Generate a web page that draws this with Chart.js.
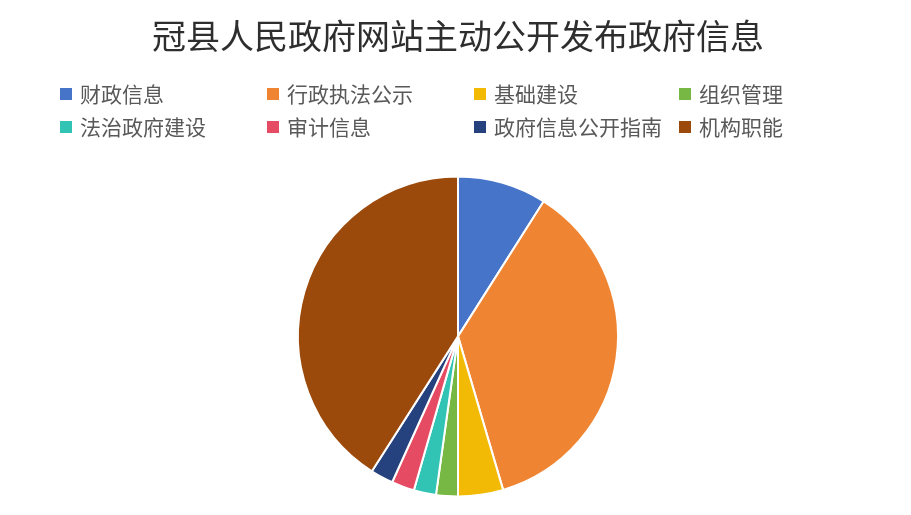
<!DOCTYPE html>
<html>
<head>
<meta charset="utf-8">
<script src="https://cdn.jsdelivr.net/npm/chart.js@4/dist/chart.umd.min.js"></script>
<style>
html,body{margin:0;padding:0;background:#fff;}
#wrap{width:911px;height:515px;position:relative;}
</style>
</head>
<body>
<div id="wrap"><canvas id="c" width="911" height="515"></canvas></div>
<script>
const chartTitle = '冠县人民政府网站主动公开发布政府信息';
const categories = ['财政信息','行政执法公示','基础建设','组织管理','法治政府建设','审计信息','政府信息公开指南','机构职能'];
const values = [9.0, 36.45, 4.55, 2.2, 2.25, 2.3, 2.3, 40.95];
const colors = ['#4674C9','#EF8532','#F2BA05','#76B843','#31C3B4','#E54C63','#25427F','#9C4A0C'];

const gridLegend = {
  id: 'gridLegend',
  afterDraw(chart) {
    const ctx = chart.ctx;
    const colX = [60, 267, 474, 679];
    const rowY = [94, 127];
    ctx.save();
    ctx.font = '21px "Noto Sans CJK SC", sans-serif';
    ctx.textBaseline = 'middle';
    ctx.textAlign = 'left';
    categories.forEach((name, i) => {
      const x = colX[i % 4];
      const y = rowY[Math.floor(i / 4)];
      ctx.fillStyle = colors[i];
      ctx.fillRect(x, y - 6, 12, 12);
      ctx.fillStyle = '#595959';
      ctx.fillText(name, x + 20, y);
    });
    ctx.restore();
  }
};

new Chart(document.getElementById('c'), {
  type: 'pie',
  data: {
    labels: categories,
    datasets: [{
      data: values,
      backgroundColor: colors,
      borderColor: '#ffffff',
      borderWidth: 2,
      radius: 160
    }]
  },
  options: {
    responsive: false,
    animation: false,
    layout: { padding: { left: 5, right: 0, top: 0, bottom: 19 } },
    plugins: {
      legend: { display: false },
      tooltip: { enabled: false },
      title: {
        display: true,
        text: chartTitle,
        color: '#2e2e2e',
        font: { family: '"Noto Sans CJK SC", sans-serif', size: 34, weight: 'normal', lineHeight: 1.2 },
        padding: { top: 16, bottom: 120 }
      }
    }
  },
  plugins: [gridLegend]
});
</script>
</body>
</html>
